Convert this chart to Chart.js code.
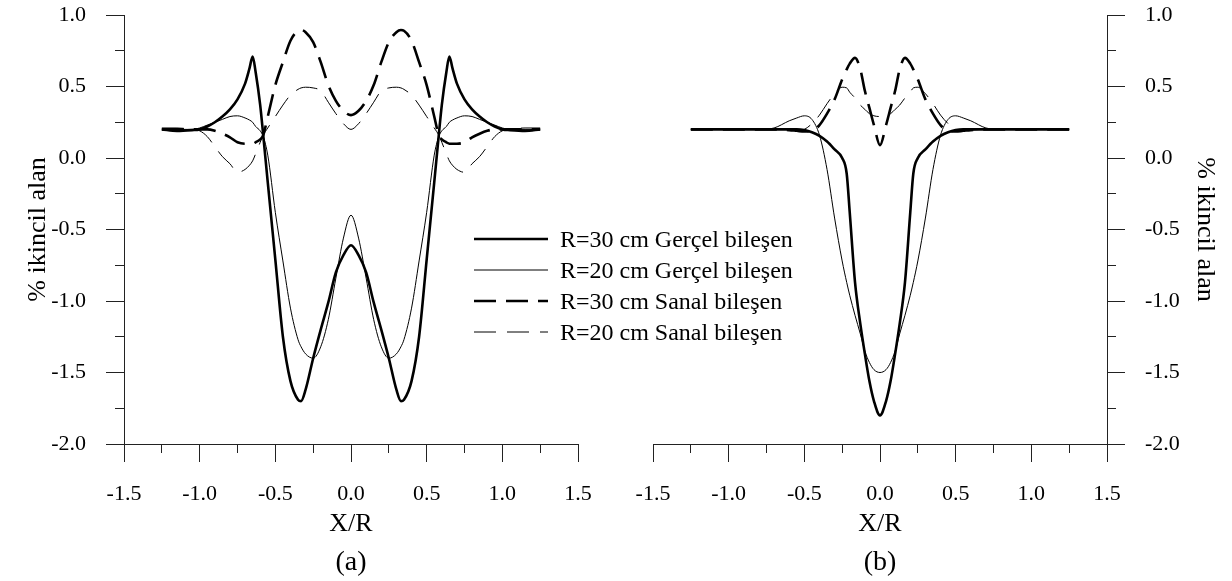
<!DOCTYPE html>
<html>
<head>
<meta charset="utf-8">
<script src="https://cdn.jsdelivr.net/npm/chart.js@4.4.1/dist/chart.umd.min.js"></script>
<style>
  html, body { margin: 0; padding: 0; background: #fff; }
  #page { position: relative; width: 1232px; height: 581px; overflow: hidden; font-family: 'Liberation Serif', 'Times New Roman', serif; }
  .panel { position: absolute; top: 0; width: 616px; height: 581px; }
  .row { position: absolute; left: 474px; height: 30px; line-height: 30px; white-space: nowrap; font-size: 24px; color: #000; }
  .row svg { position: absolute; left: 0; top: 12px; }
  .row span { position: absolute; left: 86px; top: 0; }
</style>
</head>
<body>
<div id="page">
  <div class="panel" style="left:0"><canvas id="chartA" width="616" height="581"></canvas></div>
  <div class="panel" style="left:616px"><canvas id="chartB" width="616" height="581"></canvas></div>
  <div id="legend"></div>
</div>
<script>
// Series names (legend)
const seriesLabels = ['R=30 cm Gerçel bileşen', 'R=20 cm Gerçel bileşen', 'R=30 cm Sanal bileşen', 'R=20 cm Sanal bileşen'];
const panelLabels = ['(a)', '(b)'];
const xTitle = 'X/R';
const yTitle = '% ikincil alan';

// panel (a)
const xA = [-1.25, -1.15, -1.05, -1.0, -0.95, -0.9, -0.85, -0.8, -0.75, -0.7, -0.67, -0.65, -0.63, -0.6, -0.58, -0.55, -0.5, -0.45, -0.4, -0.35, -0.33, -0.3, -0.25, -0.2, -0.15, -0.1, -0.05,
  0,
  0.05, 0.1, 0.15, 0.2, 0.25, 0.3, 0.33, 0.35, 0.4, 0.45, 0.5, 0.55, 0.58, 0.6, 0.63, 0.65, 0.67, 0.7, 0.75, 0.8, 0.85, 0.9, 0.95, 1.0, 1.05, 1.15, 1.25];
const r30RealA = [0.20, 0.19, 0.195, 0.20, 0.22, 0.25, 0.29, 0.34, 0.41, 0.52, 0.63, 0.71, 0.60, 0.37, 0.16, -0.17, -0.71, -1.25, -1.56, -1.69, -1.70, -1.62, -1.40, -1.20, -1.01, -0.80, -0.68,
  -0.61,
  -0.68, -0.80, -1.01, -1.20, -1.40, -1.62, -1.70, -1.69, -1.56, -1.25, -0.71, -0.17, 0.16, 0.37, 0.60, 0.71, 0.63, 0.52, 0.41, 0.34, 0.29, 0.25, 0.22, 0.20, 0.195, 0.19, 0.20];
const r20RealA = [0.20, 0.20, 0.20, 0.21, 0.23, 0.25, 0.27, 0.29, 0.295, 0.28, 0.265, 0.25, 0.22, 0.19, 0.15, 0.02, -0.38, -0.72, -1.05, -1.27, -1.32, -1.37, -1.40, -1.32, -1.13, -0.84, -0.56,
  -0.40,
  -0.56, -0.84, -1.13, -1.32, -1.40, -1.37, -1.32, -1.27, -1.05, -0.72, -0.38, 0.02, 0.15, 0.19, 0.22, 0.25, 0.265, 0.28, 0.295, 0.29, 0.27, 0.25, 0.23, 0.21, 0.20, 0.20, 0.20];
const r30ImagA = [0.20, 0.20, 0.20, 0.20, 0.20, 0.19, 0.17, 0.145, 0.11, 0.10, 0.10, 0.10, 0.11, 0.13, 0.16, 0.29, 0.51, 0.67, 0.82, 0.89, 0.895, 0.88, 0.81, 0.67, 0.51, 0.40, 0.33,
  0.30,
  0.33, 0.40, 0.51, 0.67, 0.81, 0.88, 0.895, 0.89, 0.82, 0.67, 0.51, 0.29, 0.16, 0.13, 0.11, 0.10, 0.10, 0.10, 0.11, 0.145, 0.17, 0.19, 0.20, 0.20, 0.20, 0.20, 0.20];
const r20ImagA = [0.21, 0.21, 0.20, 0.19, 0.15, 0.08, 0.01, -0.04, -0.10, -0.08, -0.05, -0.02, 0.03, 0.11, 0.16, 0.21, 0.29, 0.37, 0.44, 0.48, 0.49, 0.495, 0.49, 0.47, 0.39, 0.31, 0.24,
  0.20,
  0.24, 0.31, 0.39, 0.47, 0.49, 0.495, 0.49, 0.48, 0.44, 0.37, 0.29, 0.21, 0.16, 0.11, 0.03, -0.02, -0.05, -0.08, -0.10, -0.04, 0.01, 0.08, 0.15, 0.19, 0.20, 0.21, 0.21];

// panel (b)
const xB = [-1.25, -1.0, -0.8, -0.7, -0.6, -0.55, -0.5, -0.45, -0.4, -0.35, -0.3, -0.25, -0.22, -0.2, -0.165, -0.13, -0.1, -0.07, -0.04,
  0,
  0.04, 0.07, 0.1, 0.13, 0.165, 0.2, 0.22, 0.25, 0.3, 0.35, 0.4, 0.45, 0.5, 0.55, 0.6, 0.7, 0.8, 1.0, 1.25];
const r30RealB = [0.20, 0.20, 0.20, 0.20, 0.20, 0.20, 0.195, 0.18, 0.155, 0.115, 0.06, 0.00, -0.11, -0.38, -0.87, -1.16, -1.37, -1.56, -1.70,
  -1.80,
  -1.70, -1.56, -1.37, -1.16, -0.87, -0.38, -0.11, 0.00, 0.06, 0.115, 0.155, 0.18, 0.195, 0.20, 0.20, 0.20, 0.20, 0.20, 0.20];
const r20RealB = [0.20, 0.20, 0.20, 0.21, 0.26, 0.28, 0.295, 0.27, 0.16, -0.08, -0.42, -0.72, -0.87, -0.96, -1.10, -1.23, -1.35, -1.43, -1.48,
  -1.50,
  -1.48, -1.43, -1.35, -1.23, -1.10, -0.96, -0.87, -0.72, -0.42, -0.08, 0.16, 0.27, 0.295, 0.28, 0.26, 0.21, 0.20, 0.20, 0.20];
const r30ImagB = [0.20, 0.20, 0.20, 0.20, 0.195, 0.19, 0.185, 0.19, 0.23, 0.31, 0.41, 0.55, 0.62, 0.66, 0.70, 0.62, 0.47, 0.35, 0.23,
  0.09,
  0.23, 0.35, 0.47, 0.62, 0.70, 0.66, 0.62, 0.55, 0.41, 0.31, 0.23, 0.19, 0.185, 0.19, 0.195, 0.20, 0.20, 0.20, 0.20];
const r20ImagB = [0.20, 0.20, 0.20, 0.20, 0.195, 0.19, 0.20, 0.24, 0.30, 0.38, 0.45, 0.495, 0.49, 0.46, 0.42, 0.37, 0.34, 0.31, 0.295,
  0.29,
  0.295, 0.31, 0.34, 0.37, 0.42, 0.46, 0.49, 0.495, 0.45, 0.38, 0.30, 0.24, 0.20, 0.19, 0.195, 0.20, 0.20, 0.20, 0.20];

const lineStyles = [
  { width: 2.6, dash: [] },
  { width: 1, dash: [] },
  { width: 2.6, dash: [22, 10] },
  { width: 1, dash: [22, 11] }
];

Chart.defaults.font.family = "'Liberation Serif', 'Times New Roman', serif";
Chart.defaults.color = '#000';

const axisColor = '#222';
const fmt = v => Number(v).toFixed(1);

function points(xs, ys) {
  return xs.map((x, i) => ({ x: x, y: ys[i] }));
}

function buildChart(id, xs, series, side, panelLabel) {
  const left = side === 'left';
  return new Chart(document.getElementById(id), {
    type: 'scatter',
    data: {
      datasets: series.map((ys, i) => ({
        label: seriesLabels[i],
        data: points(xs, ys),
        showLine: true,
        borderColor: '#000',
        borderWidth: lineStyles[i].width,
        borderDash: lineStyles[i].dash,
        borderCapStyle: 'butt',
        pointRadius: 0,
        cubicInterpolationMode: 'monotone',
        fill: false
      }))
    },
    options: {
      responsive: false,
      animation: false,
      events: [],
      layout: {
        padding: left ? { left: 0, right: 38, top: 15, bottom: 0 } : { left: 37, right: 0, top: 15, bottom: 0 }
      },
      plugins: {
        legend: { display: false },
        tooltip: { enabled: false },
        title: {
          display: true,
          text: panelLabel,
          position: 'bottom',
          fullSize: false,
          font: { size: 28, weight: 'normal' },
          color: '#000',
          padding: { top: 6.6, bottom: 1.2 }
        }
      },
      scales: {
        x: {
          type: 'linear', position: 'bottom', weight: 1,
          min: -1.5, max: 1.5,
          ticks: { stepSize: 0.5, padding: 19, font: { size: 22 }, color: '#000', callback: fmt, maxRotation: 0, autoSkip: false },
          grid: { drawOnChartArea: false, tickLength: 18, color: axisColor, lineWidth: 1 },
          border: { display: true, color: axisColor, width: 1 },
          title: { display: true, text: xTitle, font: { size: 26 }, color: '#000', padding: { top: 0, bottom: 0 } },
          afterFit: s => { s.height = 95.6; }
        },
        xMinor: {
          type: 'linear', position: 'bottom', weight: 0,
          min: -1.5, max: 1.5,
          ticks: { stepSize: 0.25, display: false },
          grid: { drawOnChartArea: false, tickLength: 9, color: axisColor, lineWidth: 1 },
          border: { display: false },
          afterFit: s => { s.height = 0; }
        },
        y: {
          type: 'linear', position: side, weight: 1,
          min: -2, max: 1,
          ticks: { stepSize: 0.5, padding: 20, font: { size: 22 }, color: '#000', callback: fmt },
          grid: { drawOnChartArea: false, tickLength: 18, color: axisColor, lineWidth: 1 },
          border: { display: true, color: axisColor, width: 1 },
          title: { display: true, text: yTitle, font: { size: 26 }, color: '#000', padding: { top: left ? 22.4 : 11.4, bottom: 0 } },
          afterFit: s => {
            s.width = left ? 124 : 125;
            // label overhang at the ends fits inside the 15px top padding
            s.paddingTop = 10;
            s.paddingBottom = 10;
          }
        },
        yMinor: {
          type: 'linear', position: side, weight: 0,
          min: -2, max: 1,
          ticks: { stepSize: 0.25, display: false },
          grid: { drawOnChartArea: false, tickLength: 9, color: axisColor, lineWidth: 1 },
          border: { display: false },
          afterFit: s => { s.width = 0; s.paddingTop = 0; s.paddingBottom = 0; }
        }
      }
    }
  });
}

buildChart('chartA', xA, [r30RealA, r20RealA, r30ImagA, r20ImagA], 'left', panelLabels[0]);
buildChart('chartB', xB, [r30RealB, r20RealB, r30ImagB, r20ImagB], 'right', panelLabels[1]);

// legend, drawn over both panels as in the original figure
const legendRows = [238.5, 269.5, 301, 332];
const legend = document.getElementById('legend');
seriesLabels.forEach((label, i) => {
  const row = document.createElement('div');
  row.className = 'row';
  row.style.top = (legendRows[i] - 15) + 'px';
  const dash = lineStyles[i].dash.length ? lineStyles[i].dash.join(' ') : 'none';
  row.innerHTML = '<svg width="75" height="6"><line x1="0" y1="3" x2="74" y2="3" stroke="#000" stroke-width="' +
    lineStyles[i].width + '" stroke-dasharray="' + dash + '"/></svg>';
  const text = document.createElement('span');
  text.textContent = label;
  row.appendChild(text);
  legend.appendChild(row);
});
</script>
</body>
</html>
